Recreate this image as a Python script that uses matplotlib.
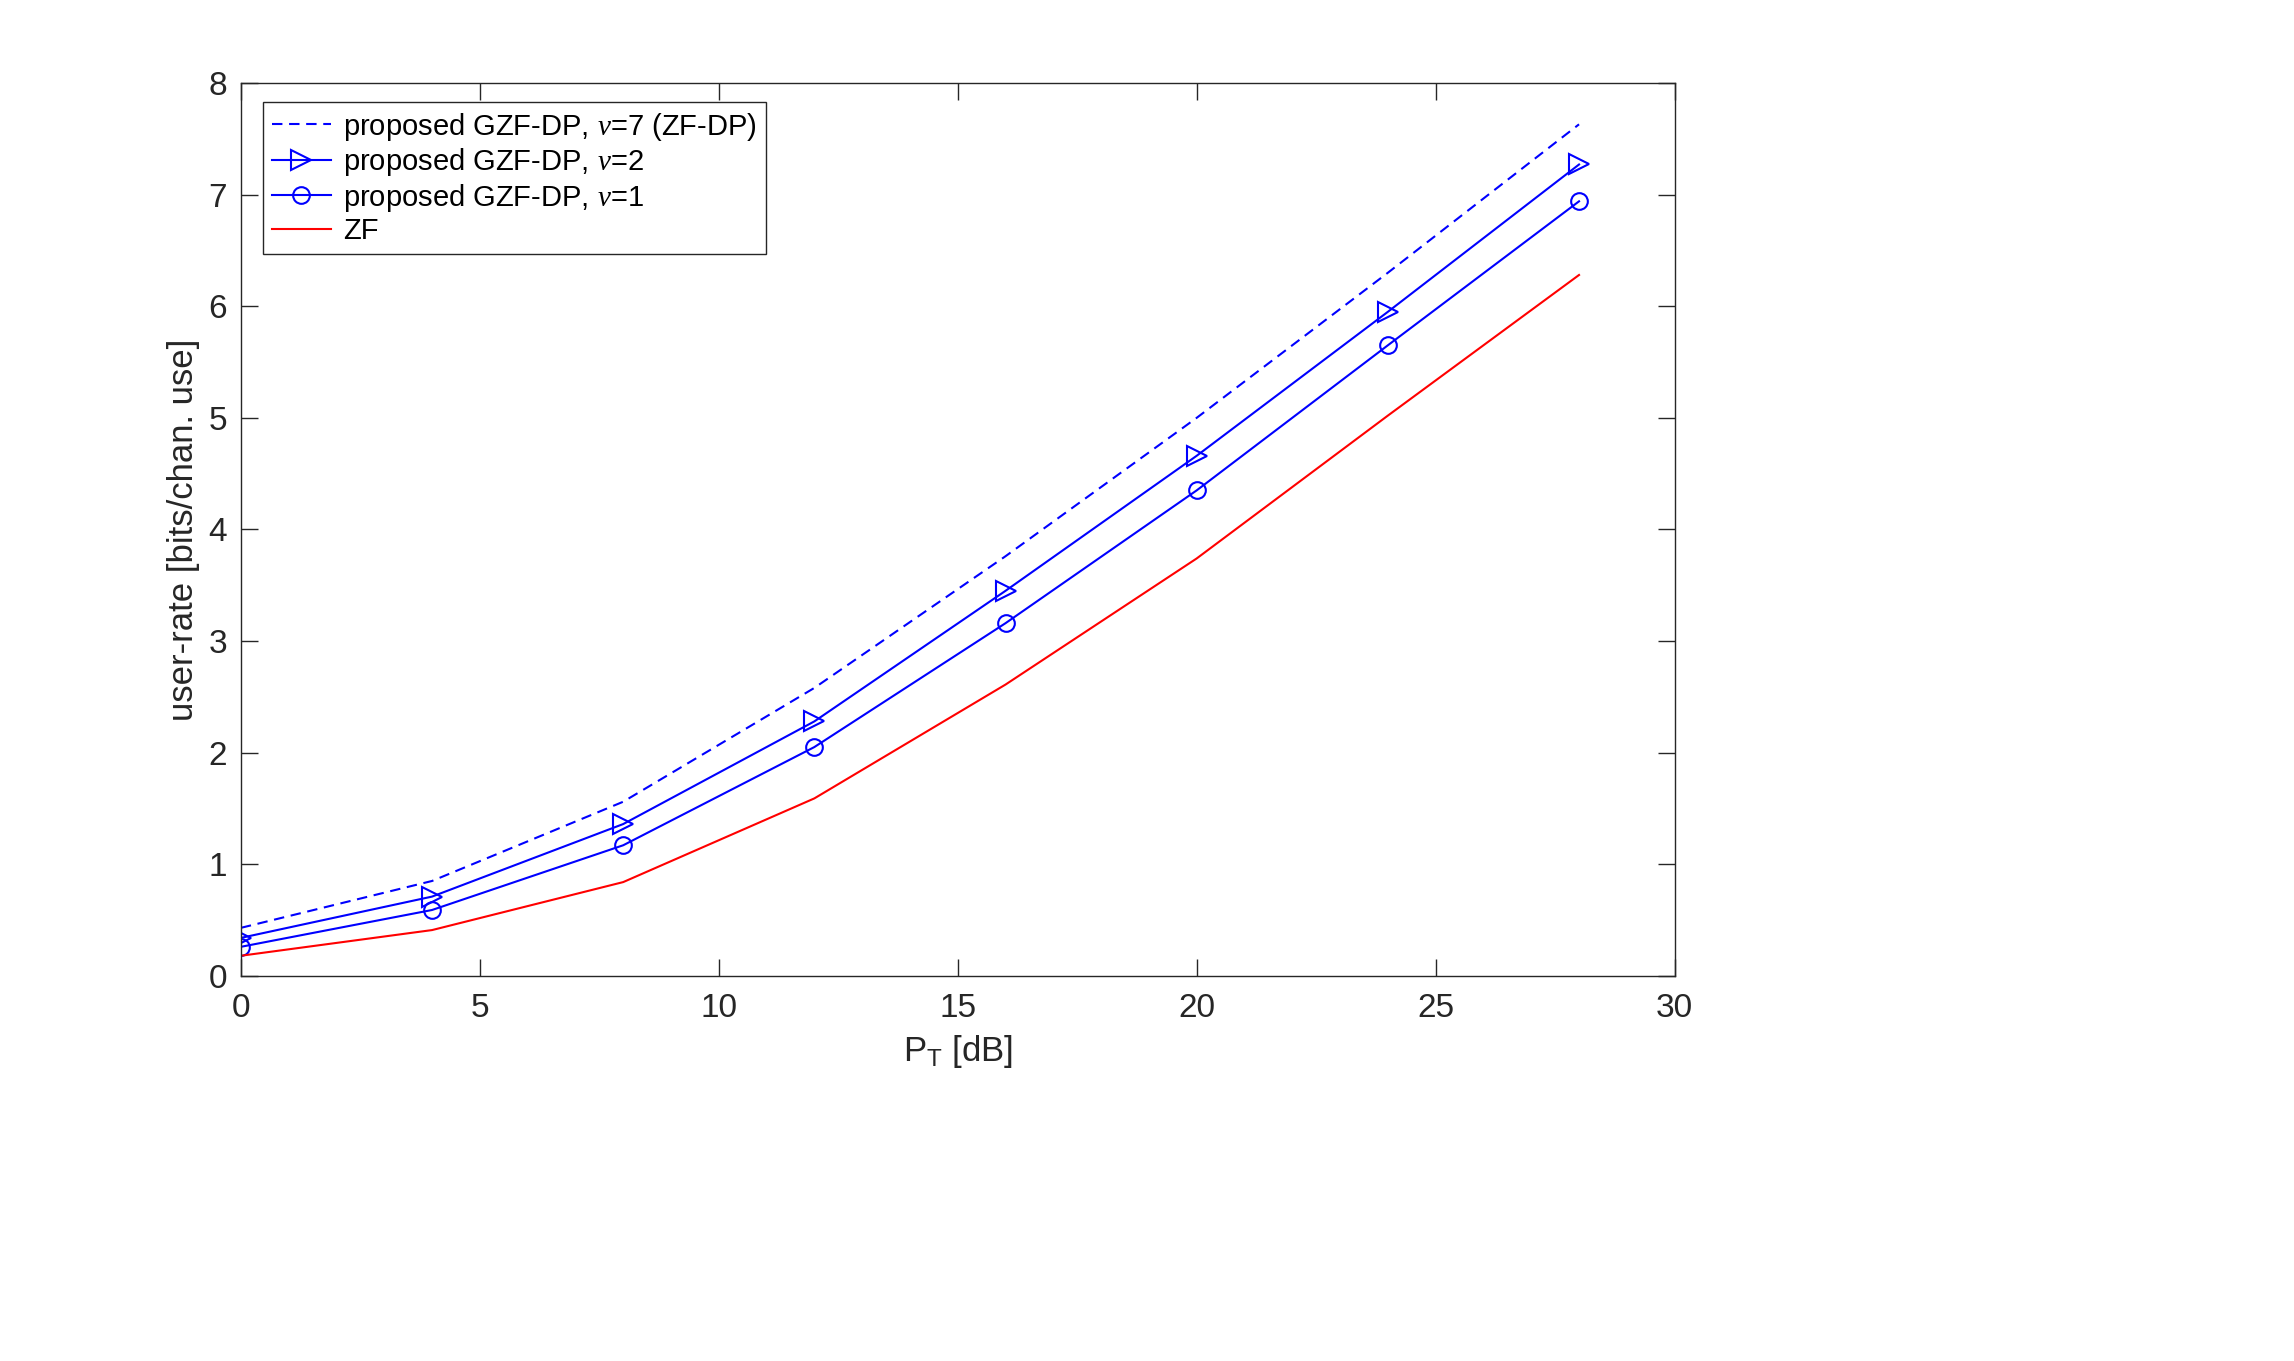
import matplotlib
matplotlib.use("Agg")
import matplotlib.pyplot as plt

plt.rcParams['font.family'] = ['Liberation Sans', 'DejaVu Sans']
plt.rcParams['mathtext.fontset'] = 'custom'
plt.rcParams['mathtext.it'] = 'Liberation Serif:italic'
plt.rcParams['lines.scale_dashes'] = False

# data
pt_db = [0, 4, 8, 12, 16, 20, 24, 28]
rate_nu7 = [0.43, 0.85, 1.56, 2.58, 3.76, 5.00, 6.30, 7.63]
rate_nu2 = [0.34, 0.71, 1.36, 2.28, 3.45, 4.66, 5.95, 7.27]
rate_nu1 = [0.26, 0.59, 1.17, 2.05, 3.16, 4.35, 5.65, 6.94]
rate_zf = [0.18, 0.41, 0.84, 1.59, 2.61, 3.74, 5.02, 6.28]

fig = plt.figure(figsize=(22.94, 13.61), dpi=100)
ax = fig.add_axes([0.105, 0.283, 0.625, 0.656])

lw = 1.5
ax.plot(pt_db, rate_nu7, '--', color='#0000ff', lw=lw, dashes=(7.5, 4.8),
        label=r'proposed GZF-DP, $\nu$=7 (ZF-DP)')
ax.plot(pt_db, rate_nu2, '-', color='#0000ff', lw=lw, marker='>',
        markersize=15, markerfacecolor='none', markeredgewidth=1.5,
        label=r'proposed GZF-DP, $\nu$=2')
ax.plot(pt_db, rate_nu1, '-', color='#0000ff', lw=lw, marker='o',
        markersize=12, markerfacecolor='none', markeredgewidth=1.5,
        label=r'proposed GZF-DP, $\nu$=1')
ax.plot(pt_db, rate_zf, '-', color='#ff0000', lw=lw, label='ZF')

ax.set_xlim(0, 30)
ax.set_ylim(0, 8)
ax.set_xticks(range(0, 31, 5))
ax.set_yticks(range(0, 9))

edge = '#262626'
for s in ax.spines.values():
    s.set_color(edge)
    s.set_linewidth(1.0)
ax.tick_params(direction='in', length=12, width=1.0, colors=edge,
               labelsize=24, top=True, right=True)
ax.tick_params(axis='x', pad=12)
ax.tick_params(axis='y', pad=10)
for lab in ax.get_xticklabels() + ax.get_yticklabels():
    lab.set_color(edge)

ax.set_xlabel(r'P$_\mathregular{T}$ [dB]', fontsize=25, color=edge, labelpad=7)
ax.set_ylabel('user-rate [bits/chan. use]', fontsize=25, color=edge, labelpad=6)

leg = ax.legend(loc='upper left', bbox_to_anchor=(0.0153, 0.979),
                fontsize=21, frameon=True, fancybox=False, framealpha=1,
                edgecolor=edge, handlelength=2.05, handletextpad=0.4,
                labelspacing=0.12, borderpad=0.3, borderaxespad=0)
leg.get_frame().set_linewidth(1.0)

fig.savefig('out.png', dpi=100, facecolor='white')
